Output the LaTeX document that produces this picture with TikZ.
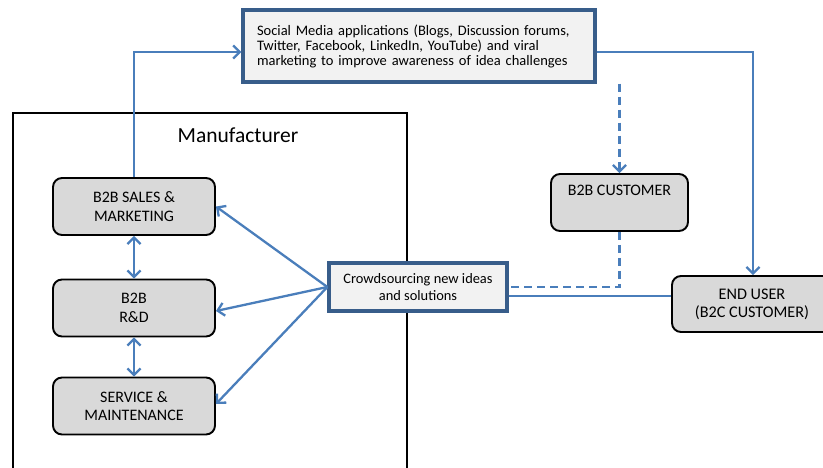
\documentclass[tikz,border=0pt]{standalone}
\usepackage{fontspec}
\setmainfont{Carlito}
\usetikzlibrary{arrows.meta}
\definecolor{conn}{HTML}{4A7EBB}
\definecolor{boxgray}{HTML}{D9D9D9}
\definecolor{navy}{HTML}{385D8A}
\definecolor{pale}{HTML}{F2F2F2}
\tikzset{
  conn/.style={draw=conn, line width=2.3pt},
  tip/.style={-{Straight Barb[length=6.5pt,width=13pt,line width=2.3pt]}},
  dtip/.style={{Straight Barb[length=6.5pt,width=13pt,line width=2.3pt]}-{Straight Barb[length=6.5pt,width=13pt,line width=2.3pt]}},
  grayb/.style={draw=black, fill=boxgray, line width=1.9pt, rounded corners=9pt, inner sep=0pt, align=center,
    minimum width=162pt, minimum height=57pt, font=\fontsize{16}{18.7}\selectfont},
  blueb/.style={draw=navy, fill=pale, line width=3.3pt, inner sep=0pt, align=center}
}
\begin{document}
\begin{tikzpicture}[x=1pt,y=-1pt]
\useasboundingbox (0,0) rectangle (823,468);
% Manufacturer frame
\draw[line width=2pt] (13,475) -- (13,113) -- (407,113) -- (407,475);
\node[font=\fontsize{21.5}{24}\selectfont] (manu) at (238,135) {Manufacturer};
% boxes
\node[grayb] (sales) at (134,206.5) {B2B SALES \&\\MARKETING};
\node[grayb] (rd) at (134,308) {B2B\\R\&D};
\node[grayb] (serv) at (134,406) {SERVICE \&\\MAINTENANCE};
\node[grayb, minimum width=137pt] (cust) at (619.5,202.5) {B2B CUSTOMER\\\strut};
\node[grayb, minimum width=160pt, minimum height=56pt, font=\fontsize{16.2}{18}\selectfont] (user) at (752,304) {END USER\\(B2C CUSTOMER)};
\node[blueb, minimum width=352pt, minimum height=72pt, text width=324pt, align=left, font=\fontsize{14.5}{15}\selectfont] (social) at (419,46)
  {Social Media applications (Blogs, Discussion forums,\\Twitter, Facebook, LinkedIn, YouTube) and viral\\marketing to improve awareness of idea challenges};
\node[blueb, minimum width=178pt, minimum height=48pt, font=\fontsize{14.4}{16.7}\selectfont] (crowd) at (418,287)
  {Crowdsourcing new ideas\\and solutions};
% connectors
\coordinate (c1) at (134,52);
\coordinate (c2) at (753,52);
\coordinate (c3) at (619.5,52);
\coordinate (c4) at (619.5,287);
\draw[conn, tip] (sales.north) -- (c1) -- (c1 -| social.west);
\draw[conn, tip] (c2 -| social.east) -- (c2) -- (c2 |- user.north);
\draw[conn, tip, dash pattern=on 8pt off 5pt] (c3 |- social.south) -- (cust.north);
\draw[conn, dash pattern=on 8pt off 5pt] (cust.south) -- (c4) -- (c4 -| crowd.east);
\draw[conn] ([yshift=-9pt]crowd.east) -- ([yshift=-9pt]crowd.east -| user.west);
\draw[conn, tip] (crowd.west) -- (sales.east);
\draw[conn, tip] (crowd.west) -- ([yshift=-3pt]rd.east);
\draw[conn, tip] (crowd.west) -- ([yshift=2pt]serv.east);
\draw[conn, dtip] (sales.south) -- (rd.north);
\draw[conn, dtip] (rd.south) -- (serv.north);
\end{tikzpicture}
\end{document}
